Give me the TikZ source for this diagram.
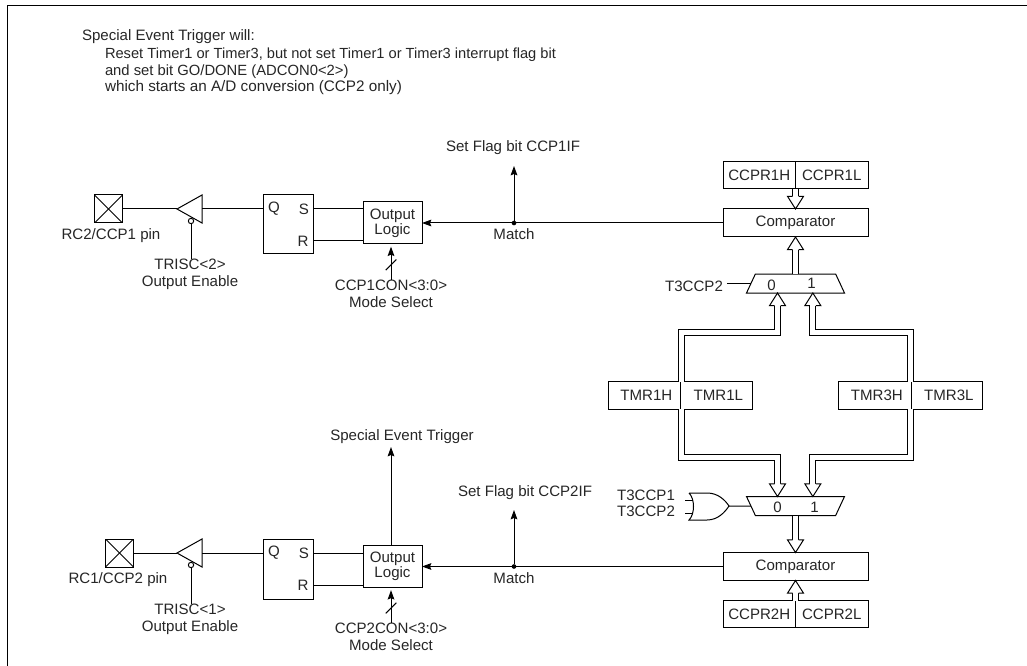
\documentclass[tikz,border=0pt]{standalone}
\usepackage{fontspec}
\setmainfont{Liberation Sans}
\usepackage{tikz}
\usetikzlibrary{arrows.meta,positioning,calc,shapes.geometric}

\begin{document}
\begin{tikzpicture}[
  x=0.75pt, y=-0.75pt, line width=0.75pt,
  every node/.style={font=\fontsize{11.3}{12.75}\selectfont, inner sep=0pt, outer sep=0pt},
  lbl/.style={align=center, text=black!85},
  boxed/.style={draw, text=black!85, minimum width=#1, minimum height=20.5pt},
  timer/.style={boxed=#1, execute at begin node=\hspace*{3.5pt}},
  pinbox/.style={draw, minimum size=21pt, path picture={
    \draw (path picture bounding box.north west) -- (path picture bounding box.south east);
    \draw (path picture bounding box.north east) -- (path picture bounding box.south west);}},
  buffer/.style={draw, isosceles triangle, isosceles triangle stretches, shape border rotate=180,
    minimum width=21pt, minimum height=18.75pt, anchor=apex},
  bubble/.style={draw, circle, fill=white, minimum size=4pt},
  dot/.style={fill, circle, minimum size=3.5pt},
  mux/.style={draw, trapezium, trapezium stretches body, trapezium left angle=65, trapezium right angle=65,
    minimum width=73.5pt},
  arr/.style={-{Stealth[length=7pt,width=5pt,inset=1pt]}},
  bus/.style={double, double distance=3.75pt},
  pics/bushead/.style={code={
    \draw[fill=white] (-2.25pt,-9.5pt) -- (-6pt,-9.5pt) -- (0pt,0pt) -- (6pt,-9.5pt) -- (2.25pt,-9.5pt);}}
]
\useasboundingbox (0,0) rectangle (1027,666);
\draw (7,666) -- (7,6) -- (1027,6);

% note
\node[lbl, anchor=west] (notehead) at (82,37) {Special Event Trigger will:};
\node[lbl, anchor=west, font=\fontsize{11}{12.75}\selectfont] (notea) at (105,55) {Reset Timer1 or Timer3, but not set Timer1 or Timer3 interrupt flag bit};
\node[lbl, anchor=west, font=\fontsize{11.1}{12.75}\selectfont] (noteb) at (105,72) {and set bit GO/DONE (ADCON0{<}2{>})};
\node[lbl, anchor=west, font=\fontsize{11.45}{12.75}\selectfont] (notec) at (105,88) {which starts an A/D conversion (CCP2 only)};

% upper channel
\node[pinbox] (pina) at (108.5,209) {};
\node[lbl] (pinalabel) at (111,236) {RC2/CCP1 pin};
\node[buffer] (bufa) at (177,209) {\phantom{.}};
\node[bubble] (bubblea) at (191,221) {};
\node[lbl] (trisa) at (190,274.5) {TRISC{<}2{>}\\Output Enable};
\node[draw, minimum width=37.5pt, minimum height=44.25pt] (sra) at (288,224.5) {};
\node[lbl] (qa) at (274,209) {Q};
\node[lbl] (sa) at (304,209) {S};
\node[lbl] (ra) at (303,241) {R};
\node[boxed=44.25pt, minimum height=31.5pt, align=center] (logica) at (392.5,223) {Output\\[-1.5pt]Logic};
\node[lbl] (modea) at (391,293.5) {CCP1CON{<}3:0{>}\\Mode Select};
\node[boxed=108.75pt, minimum height=21pt] (compa) at (795.5,223) {Comparator};
\node[dot] (matcha) at (514,223) {};
\node[lbl] (matchalabel) at (514,234) {Match};
\node[lbl] (flaga) at (513,148) {Set Flag bit CCP1IF};
\node[boxed=54.375pt, above left=15pt and 0pt of compa.north] (ccprah) {CCPR1H};
\node[boxed=54.375pt, right=0pt of ccprah] (ccpral) {CCPR1L};
\node[mux, below=27.75pt of compa] (muxa) {\phantom{\rule{1pt}{14.25pt}}};
\node[lbl] (muxazero) at ([xshift=-18pt,yshift=-1pt]muxa.center) {0};
\node[lbl] (muxaone) at ([xshift=12pt]muxa.center) {1};
\node[lbl] (tsela) at (694,286) {T3CCP2};

% timers
\node[timer=54pt] (tmrah) at (644,395.5) {TMR1H};
\node[timer=54pt, right=0pt of tmrah] (tmral) {TMR1L};
\node[timer=54.75pt] (tmrbh) at (874.5,395.5) {TMR3H};
\node[timer=53.25pt, right=0pt of tmrbh] (tmrbl) {TMR3L};

% lower channel
\node[boxed=108.75pt, minimum height=21pt] (compb) at (795.5,566.5) {Comparator};
\node[mux, shape border rotate=180, above=27.75pt of compb] (muxb) {\phantom{\rule{1pt}{14.25pt}}};
\node[lbl] (muxbzero) at ([xshift=-13.5pt,yshift=-1pt]muxb.center) {0};
\node[lbl] (muxbone) at ([xshift=14.25pt,yshift=-1pt]muxb.center) {1};
\node[boxed=54.375pt, below left=15pt and 0pt of compb.south] (ccprbh) {CCPR2H};
\node[boxed=54.375pt, right=0pt of ccprbh] (ccprbl) {CCPR2L};
\node[lbl] (tora) at (646,495) {T3CCP1};
\node[lbl] (torb) at (646,511) {T3CCP2};
\node[pinbox] (pinb) at (119.5,553) {};
\node[lbl] (pinblabel) at (118,580) {RC1/CCP2 pin};
\node[buffer] (bufb) at (177,553) {\phantom{.}};
\node[bubble] (bubbleb) at (191,565) {};
\node[lbl] (trisb) at (190,619) {TRISC{<}1{>}\\Output Enable};
\node[draw, minimum width=37.5pt, minimum height=45pt] (srb) at (288,569) {};
\node[lbl] (qb) at (274,553) {Q};
\node[lbl] (sb) at (304,553) {S};
\node[lbl] (rb) at (303,585) {R};
\node[boxed=44.25pt, minimum height=31.5pt, align=center] (logicb) at (392.5,566.5) {Output\\[-1.5pt]Logic};
\node[lbl] (modeb) at (391,636.5) {CCP2CON{<}3:0{>}\\Mode Select};
\node[dot] (matchb) at (514,566.5) {};
\node[lbl] (matchblabel) at (514,578) {Match};
\node[lbl] (flagb) at (525,493) {Set Flag bit CCP2IF};
\node[lbl] (trigger) at (402,437) {Special Event Trigger};

\coordinate (bendtop) at (0,332.5);
\coordinate (bendbot) at (0,457);
\coordinate (ina) at ([xshift=-13.5pt]muxa.south);
\coordinate (inb) at ([xshift=13pt]muxa.south);
\coordinate (inc) at ([xshift=-13.5pt]muxb.north);
\coordinate (ind) at ([xshift=13pt]muxb.north);
\coordinate (orout) at (729,506);
\coordinate (orina) at (693,500);
\coordinate (orinb) at (693,513);

% or gate
\draw (689,493) -- (707,493) .. controls (718,493) and (725,500) .. (orout)
  .. controls (725,512) and (718,520) .. (707,520) -- (689,520)
  .. controls (695,514) and (695,499) .. (689,493);
\draw (orina) -- ++(-8,0);
\draw (orinb) -- ++(-8,0);
\draw (orout) -- (muxb.west);

% wires upper
\draw (pina) -- (bufa.apex);
\draw (bufa.east) -- (sra.west |- bufa.east);
\draw (bubblea) -- (trisa.north -| bubblea);
\draw (sra.east |- sa) -- (logica.west |- sa);
\draw (sra.east |- ra) -- (logica.west |- ra);
\draw[arr] (compa.west) -- (logica.east);
\draw[arr] (matcha) -- ([yshift=-13.5pt]flaga.center -| matcha);
\draw[arr] (modea.north) -- coordinate[pos=0.45] (slasha) ([yshift=-2pt]logica.south -| modea.north);
\draw ([shift={(-4pt,-4pt)}]slasha) -- ([shift={(4pt,4pt)}]slasha);
\draw ([xshift=3pt]tsela.east |- muxa.west) -- (muxa.west);

% wires lower
\draw (pinb) -- (bufb.apex);
\draw (bufb.east) -- (srb.west |- bufb.east);
\draw (bubbleb) -- (trisb.north -| bubbleb);
\draw (srb.east |- sb) -- (logicb.west |- sb);
\draw (srb.east |- rb) -- (logicb.west |- rb);
\draw[arr] (compb.west) -- (logicb.east);
\draw[arr] (matchb) -- ([yshift=-12.75pt]flagb.center -| matchb);
\draw[arr] (logicb.north -| modeb.north) -- ([yshift=-7.5pt]trigger.center -| modeb.north);
\draw[arr] (modeb.north) -- coordinate[pos=0.45] (slashb) ([yshift=-2pt]logicb.south -| modeb.north);
\draw ([shift={(-4pt,-4pt)}]slashb) -- ([shift={(4pt,4pt)}]slashb);

% buses
\draw[bus] (ccprah.south east) -- ([yshift=9.5pt]compa.north);
\pic[rotate=180] at (compa.north) {bushead};
\draw[bus] (muxa.north) -- ([yshift=-9.5pt]compa.south);
\pic at (compa.south) {bushead};
\draw[bus] ([xshift=0.75pt]tmrah.north east) |- (ina |- bendtop) -- ([yshift=-9.5pt]ina);
\pic at (ina) {bushead};
\draw[bus] ([xshift=-0.75pt]tmrbh.north east) |- (inb |- bendtop) -- ([yshift=-9.5pt]inb);
\pic at (inb) {bushead};
\draw[bus] ([xshift=0.75pt]tmrah.south east) |- (inc |- bendbot) -- ([yshift=9.5pt]inc);
\pic[rotate=180] at (inc) {bushead};
\draw[bus] ([xshift=-0.75pt]tmrbh.south east) |- (ind |- bendbot) -- ([yshift=9.5pt]ind);
\pic[rotate=180] at (ind) {bushead};
\draw[bus] (muxb.south) -- ([yshift=9.5pt]compb.north);
\pic[rotate=180] at (compb.north) {bushead};
\draw[bus] (ccprbh.north east) -- ([yshift=-9.5pt]compb.south);
\pic at (compb.south) {bushead};
\end{tikzpicture}
\end{document}
